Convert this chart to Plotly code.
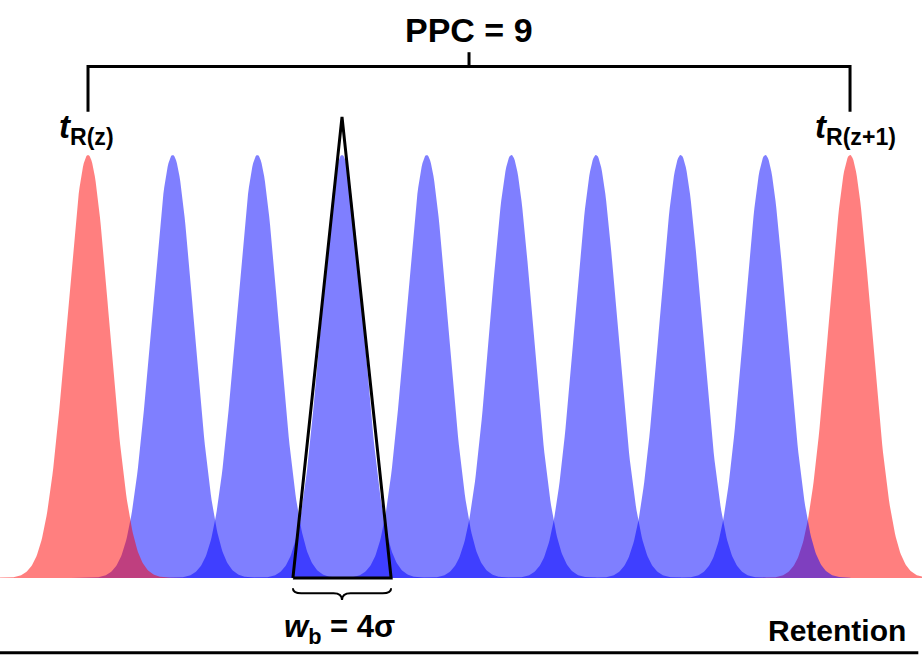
import numpy as np
import plotly.graph_objects as go

# ---- data ----
peak_positions = [0, 1, 2, 3, 4, 5, 6, 7, 8, 9]
peak_heights = [1, 1, 1, 1, 1, 1, 1, 1, 1, 1]
peak_kinds = ["ref", "analyte", "analyte", "analyte", "analyte",
              "analyte", "analyte", "analyte", "analyte", "ref"]
peak_sigma = 0.25
triangle_x = [2.42, 3.0, 3.58]
triangle_y = [0.0, 1.09, 0.0]
ppc_label = "PPC = 9"
left_label = "<b><i>t</i><sub>R(z)</sub></b>"
right_label = "<b><i>t</i><sub>R(z+1)</sub></b>"
width_label = "<b><i>w</i><sub>b</sub> = 4σ</b>"
axis_label = "<b>Retention</b>"

colors = {"ref": "rgba(255,0,0,0.5)", "analyte": "rgba(0,0,255,0.5)"}
FONT = "Liberation Sans, Arial, sans-serif"

fig = go.Figure()

# draw order: last reference first, analytes, then first reference on top
order = [9] + list(range(1, 9)) + [0]
for i in order:
    c = peak_positions[i]
    h = peak_heights[i]
    xs = np.linspace(c - 1.2, c + 1.2, 241)
    ys = h * np.exp(-((xs - c) ** 2) / (2 * peak_sigma ** 2))
    fig.add_trace(go.Scatter(
        x=xs, y=ys, mode="lines", fill="tozeroy",
        line=dict(width=0, color=colors[peak_kinds[i]]),
        fillcolor=colors[peak_kinds[i]], hoverinfo="skip", showlegend=False))

# tangent triangle
fig.add_trace(go.Scatter(
    x=triangle_x + [triangle_x[0]], y=triangle_y + [triangle_y[0]],
    mode="lines", line=dict(color="black", width=3),
    hoverinfo="skip", showlegend=False))

x_left, x_right = peak_positions[0], peak_positions[-1]
x_mid = (x_left + x_right) / 2
yb, yb_end, yb_top = 1.209, 1.102, 1.243

# top bracket
fig.add_trace(go.Scatter(
    x=[x_left, x_left, x_right, x_right], y=[yb_end, yb, yb, yb_end],
    mode="lines", line=dict(color="black", width=3),
    hoverinfo="skip", showlegend=False))
fig.add_trace(go.Scatter(
    x=[x_mid, x_mid], y=[yb, yb_top],
    mode="lines", line=dict(color="black", width=3),
    hoverinfo="skip", showlegend=False))

# brace under triangle base
a, m, b = triangle_x[0], triangle_x[1], triangle_x[2]
ye, yl, yt = -0.024, -0.036, -0.052
brace = (f"M {a},{ye} Q {a},{yl} {a+0.1},{yl} L {m-0.1},{yl} "
         f"Q {m},{yl} {m},{yt} Q {m},{yl} {m+0.1},{yl} "
         f"L {b-0.1},{yl} Q {b},{yl} {b},{ye}")
fig.add_shape(type="path", path=brace, xref="x", yref="y",
              line=dict(color="black", width=2))

# bottom rule
fig.add_shape(type="line", xref="paper", yref="paper",
              x0=0, x1=0.996, y0=0.005, y1=0.005,
              line=dict(color="black", width=3))

fig.add_annotation(x=x_mid, y=1.296, text=f"<b>{ppc_label}</b>", showarrow=False,
                   font=dict(family=FONT, size=34, color="black"))
fig.add_annotation(x=x_left - 0.02, y=1.062, text=left_label, showarrow=False,
                   font=dict(family=FONT, size=33, color="black"))
fig.add_annotation(x=x_right + 0.06, y=1.062, text=right_label, showarrow=False,
                   font=dict(family=FONT, size=33, color="black"))
fig.add_annotation(x=m - 0.03, y=-0.12, text=width_label, showarrow=False,
                   font=dict(family=FONT, size=31, color="black"))
fig.add_annotation(x=8.85, y=-0.125, text=axis_label, showarrow=False,
                   font=dict(family=FONT, size=30, color="black"))

fig.update_layout(
    width=922, height=656,
    margin=dict(l=0, r=0, t=0, b=0),
    paper_bgcolor="white", plot_bgcolor="white",
    xaxis=dict(range=[-1.0394, 9.850], visible=False, fixedrange=True),
    yaxis=dict(range=[-0.1844, 1.3664], visible=False, fixedrange=True),
    showlegend=False,
)

fig.write_html("out.html")
